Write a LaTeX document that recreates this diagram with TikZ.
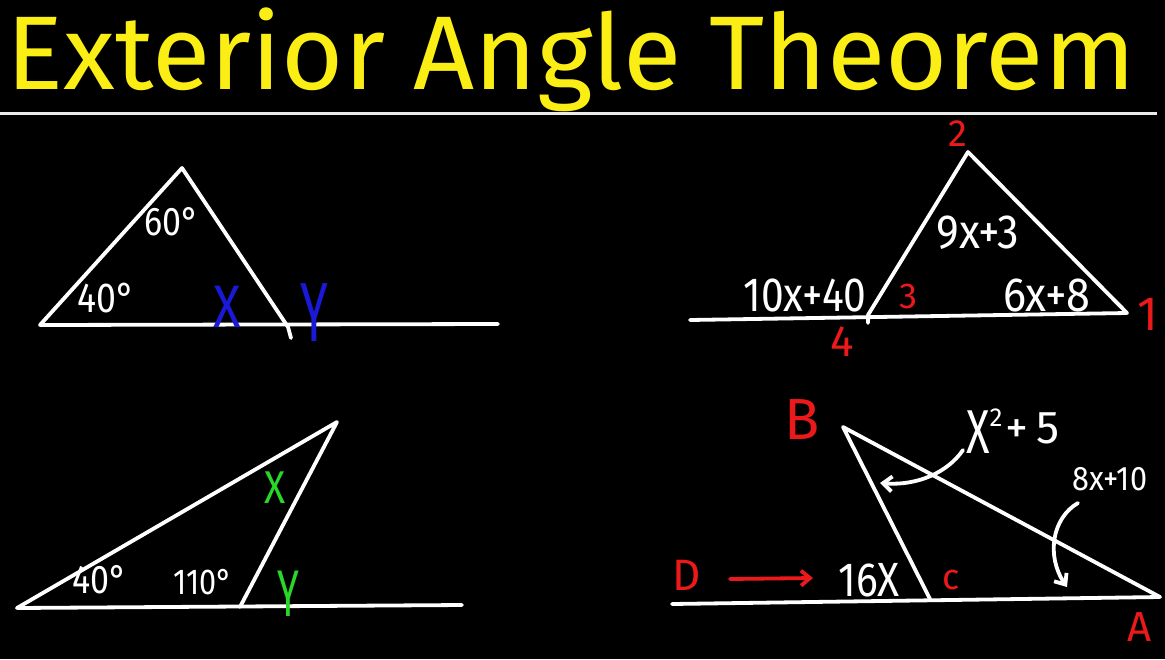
\documentclass[tikz,border=0pt]{standalone}
\usepackage{fontspec}
\setmainfont{Fira Sans}
\newfontfamily\hand{Fira Sans}
\usetikzlibrary{arrows.meta}
\definecolor{ttl}{RGB}{250,238,20}
\definecolor{lblue}{RGB}{25,25,215}
\definecolor{lgreen}{RGB}{40,215,40}
\definecolor{lred}{RGB}{235,25,25}
\begin{document}
\begin{tikzpicture}[x=1pt,y=-1pt,
  chalk/.style={draw=white,line width=3.8pt,line cap=round,line join=round},
  redline/.style={draw=lred,line width=3.8pt,line cap=round,line join=round},
  lbl/.style={text=white,inner sep=0pt,font=\hand\fontsize{#1}{#1}\selectfont},
  rlbl/.style={text=lred,inner sep=0pt,font=\hand\fontsize{#1}{#1}\selectfont},
  blbl/.style={text=lblue,inner sep=0pt,font=\hand\fontsize{#1}{#1}\selectfont},
  glbl/.style={text=lgreen,inner sep=0pt,font=\hand\fontsize{#1}{#1}\selectfont},
  barb/.style={-{Straight Barb[length=9pt,width=15pt,line width=3.8pt]}}]
\fill[black] (0,0) rectangle (1165,659);
\useasboundingbox (0,0) rectangle (1165,659);

% title
\node[inner sep=0pt,text=ttl] (title) at (571,60)
  {\resizebox*{1128pt}{104pt}{Exterior Angle Theorem}};
\coordinate (rl) at (0,113);
\coordinate (rr) at (1157,113);
\draw[draw=white!92!black,line width=3pt] (rl) -- (rr);

% ---------- top-left ----------
\coordinate (p1) at (40,325);
\coordinate (p2) at (182,168);
\coordinate (p3) at (288,327);
\coordinate (p4) at (291,338);
\coordinate (p5) at (498,324);
\draw[chalk] (p1) -- (p5);
\draw[chalk] (p1) -- (p2) -- (p3) -- (p4);
\node[lbl=40] (t60) at (172,222) {\scalebox{0.85}[1]{60°}};
\node[lbl=42] (t40) at (106,298) {\scalebox{0.85}[1]{40°}};
\node[blbl=60] (tx) at (227,307) {\scalebox{0.85}[1]{X}};
\node[blbl=84] (ty) at (314,313) {\scalebox{0.6}[1]{Y}};

% ---------- top-right ----------
\coordinate (q0) at (690,320);
\coordinate (q4) at (868,315);
\coordinate (q4t) at (868,323);
\coordinate (q2) at (968,152);
\coordinate (q1) at (1127,313);
\draw[chalk] (q0) -- (q1);
\draw[chalk] (q4t) -- (q4) -- (q2) -- (q1);
\node[rlbl=38] (n2) at (958,134) {2};
\node[rlbl=48] (n1) at (1148,314) {1};
\node[rlbl=36] (n3) at (908,296) {3};
\node[rlbl=44] (n4) at (842,342) {4};
\node[lbl=48] (e1) at (978,233) {\scalebox{0.9}[1]{9x+3}};
\node[lbl=48] (e2) at (1047,295) {\scalebox{0.9}[1]{6x+8}};
\node[lbl=48] (e3) at (805,295) {\scalebox{0.85}[1]{10x+40}};

% ---------- bottom-left ----------
\coordinate (s1) at (17,608);
\coordinate (s2) at (337,422);
\coordinate (s3) at (240,607);
\coordinate (s4) at (462,605);
\draw[chalk] (s1) -- (s4);
\draw[chalk] (s1) -- (s2) -- (s3);
\node[lbl=40] (b40) at (100,580) {\scalebox{0.85}[1]{40°}};
\node[lbl=36] (b110) at (203,582) {\scalebox{0.85}[1]{110°}};
\node[glbl=46] (gx) at (275,488) {\scalebox{0.85}[1]{X}};
\node[glbl=66] (gy) at (288,594) {\scalebox{0.6}[1]{Y}};

% ---------- bottom-right ----------
\coordinate (d0) at (672,604);
\coordinate (vB) at (843,427);
\coordinate (vC) at (930,599);
\coordinate (vA) at (1160,597);
\draw[chalk] (d0) -- (vA);
\draw[chalk] (vC) -- (vB) -- (vA);
\node[rlbl=58] (lB) at (802,420) {B};
\node[rlbl=42] (lA) at (1140,627) {A};
\node[rlbl=36] (lC) at (951,580) {c};
\node[rlbl=44] (lD) at (687,575) {D};
\coordinate (ra1) at (730,579);
\coordinate (ra2) at (813,578);
\draw[redline,barb] (ra1) -- (ra2);
\node[lbl=48] (l16) at (869,580) {\scalebox{0.85}[1]{16X}};
\node[lbl=46,anchor=base west] (lsq) at (966,453)
  {{\fontsize{62}{62}\selectfont\scalebox{0.7}[1]{X}}\raisebox{27pt}{\fontsize{26}{26}\selectfont 2}\hspace{3pt}\raisebox{10pt}{+\,5}};
\node[lbl=34] (l8) at (1110,479) {\scalebox{0.9}[1]{8x+10}};
\coordinate (w1s) at (963,450);
\coordinate (w1e) at (880,483);
\draw[chalk,barb] (w1s) .. controls (948,472) and (918,486) .. (w1e);
\coordinate (w2s) at (1078,503);
\coordinate (w2e) at (1067,587);
\draw[chalk,barb] (w2s) .. controls (1052,518) and (1046,556) .. (w2e);
\end{tikzpicture}
\end{document}
